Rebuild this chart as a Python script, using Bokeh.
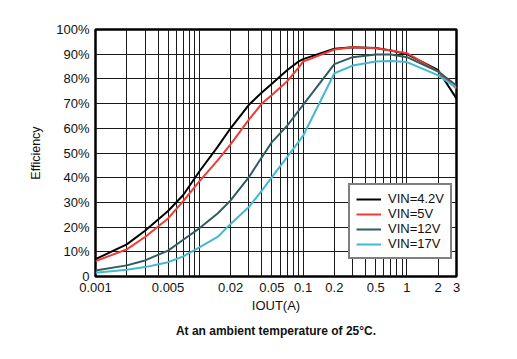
from bokeh.plotting import figure
from bokeh.models import (Range1d, FixedTicker, CustomJSTickFormatter, Legend, LegendItem, Title)
from bokeh.embed import file_html
from bokeh.resources import INLINE

# ---- data ----
iout = [0.001, 0.002, 0.003, 0.005, 0.007, 0.01, 0.015, 0.02, 0.03, 0.04, 0.05, 0.07, 0.09, 0.1,
        0.2, 0.3, 0.5, 0.7, 1, 2, 3]
eff_4v2 = [7, 13, 18.5, 26.5, 33, 42.5, 52.5, 60, 69.5, 74.5, 78, 83.5, 87, 88,
           92.2, 92.8, 92.5, 91.5, 90, 83.5, 72]
eff_5v = [6.2, 11, 16, 23.5, 30.5, 38.5, 47, 53.5, 63.5, 70, 73.5, 79, 84.5, 87,
          91.9, 92.8, 92.4, 91.5, 90.4, 83, 76]
eff_12v = [2.4, 4.5, 6.5, 10.5, 14.9, 19.5, 25.5, 30.8, 40.2, 48.3, 54.4, 61, 67, 69.5,
           86, 88.8, 89.9, 89.9, 88.8, 83, 77.3]
eff_17v = [1.5, 2.7, 3.8, 5.8, 8.1, 11.8, 16, 21.3, 28.1, 34.8, 40.2, 48.3, 54.4, 57,
           82.3, 85.4, 87, 87.2, 86.8, 81.4, 76.4]

series_names = ["VIN=4.2V", "VIN=5V", "VIN=12V", "VIN=17V"]
series_colors = ["#000000", "#f23a32", "#2f5d60", "#43b9d0"]

x_major = [0.001, 0.005, 0.02, 0.05, 0.1, 0.2, 0.5, 1, 2, 3]
x_minor = [m * 10 ** e for e in (-3, -2, -1) for m in range(1, 10)] + [1, 2, 3]
y_ticks = list(range(0, 101, 10))

FONT = "Liberation Sans"

p = figure(width=509, height=351, x_axis_type="log",
           x_range=Range1d(0.001, 3), y_range=Range1d(0, 100),
           output_backend="svg", toolbar_location=None,
           min_border_left=95, min_border_right=53, min_border_top=29, min_border_bottom=75)

p.background_fill_color = "white"
p.border_fill_color = "white"
p.outline_line_color = "black"
p.outline_line_width = 2.5

# axes
p.xaxis.ticker = FixedTicker(ticks=x_major, minor_ticks=x_minor)
p.xaxis.formatter = CustomJSTickFormatter(code="return String(tick);")
p.yaxis.ticker = FixedTicker(ticks=y_ticks)
p.yaxis.formatter = CustomJSTickFormatter(code="return tick == 0 ? '0' : tick + '%';")

for ax in (p.xaxis[0], p.yaxis[0]):
    ax.axis_line_color = None
    ax.major_tick_line_color = None
    ax.minor_tick_line_color = None
    ax.major_tick_in = 0
    ax.major_tick_out = 0
    ax.minor_tick_in = 0
    ax.minor_tick_out = 0
    ax.major_label_text_font = FONT
    ax.major_label_text_font_size = "13px"
    ax.major_label_text_color = "#111111"
    ax.axis_label_text_font = FONT
    ax.axis_label_text_font_style = "normal"
    ax.axis_label_text_color = "#111111"

p.xaxis.axis_label = "IOUT(A)"
p.xaxis.axis_label_text_font_size = "13px"
p.xaxis.major_label_standoff = 6
p.xaxis.axis_label_standoff = 3
p.yaxis.axis_label = "Efficiency"
p.yaxis.axis_label_text_font_size = "12.5px"
p.yaxis.major_label_standoff = 6
p.yaxis.axis_label_standoff = 10

# grid
p.xgrid.grid_line_color = "#1a1a1a"
p.xgrid.grid_line_width = 1
p.xgrid.minor_grid_line_color = "#1a1a1a"
p.xgrid.minor_grid_line_width = 1
p.ygrid.grid_line_color = "#1a1a1a"
p.ygrid.grid_line_width = 1
p.ygrid.ticker = FixedTicker(ticks=y_ticks)

# curves
all_eff = [eff_4v2, eff_5v, eff_12v, eff_17v]
items = []
for name, col, eff in zip(series_names, series_colors, all_eff):
    r = p.line(iout, eff, line_color=col, line_width=2)
    items.append(LegendItem(label=name, renderers=[r]))

legend = Legend(items=items, location=(253, 17))
legend.border_line_color = "black"
legend.border_line_width = 2
legend.background_fill_color = "white"
legend.background_fill_alpha = 1
legend.label_text_font = FONT
legend.label_text_font_size = "13px"
legend.label_text_color = "#111111"
legend.glyph_width = 25
legend.glyph_height = 14
legend.label_height = 14
legend.label_standoff = 7
legend.spacing = -2
legend.padding = 6
legend.margin = 0
p.add_layout(legend, "center")

caption = Title(text="At an ambient temperature of 25°C.", align="center",
                text_font=FONT, text_font_size="12px", text_font_style="bold",
                text_color="#111111", standoff=13)
p.add_layout(caption, "below")

open("out.html", "w").write(file_html(p, INLINE))
